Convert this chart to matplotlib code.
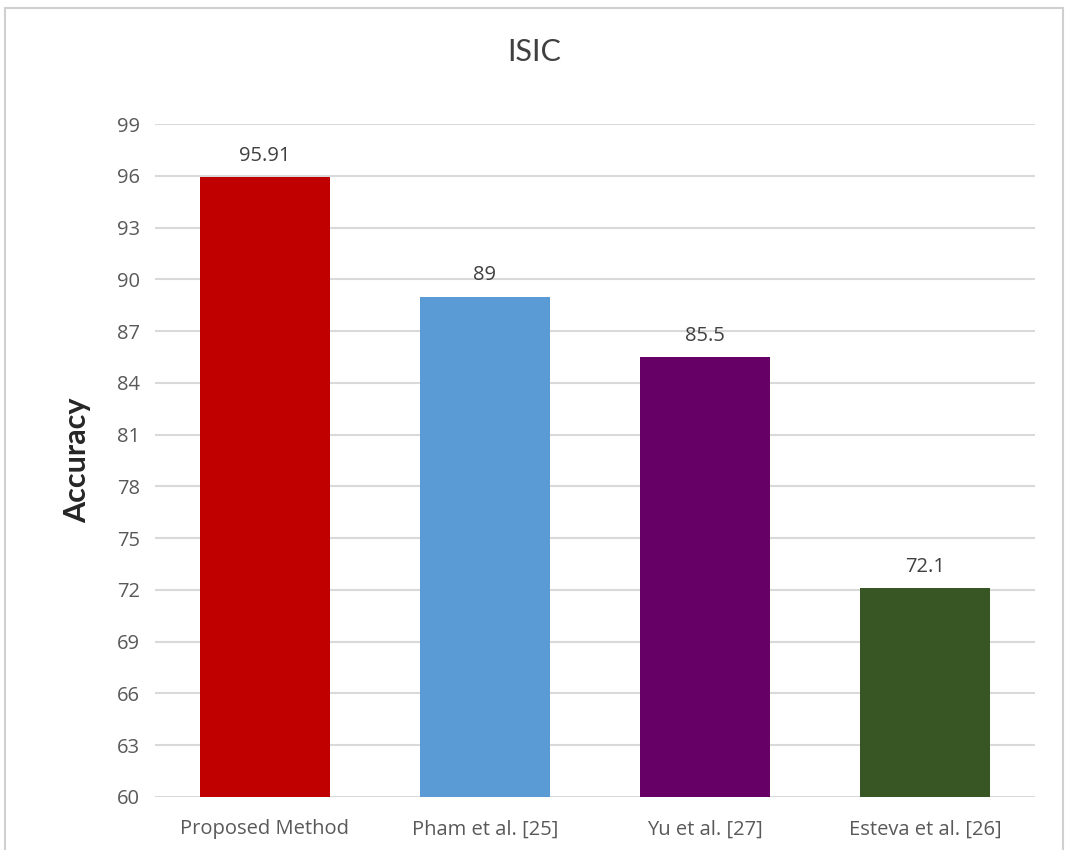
import matplotlib.pyplot as plt
from matplotlib.patches import Rectangle

methods = ["Proposed Method", "Pham et al. [25]", "Yu et al. [27]", "Esteva et al. [26]"]
accuracy = [95.91, 89, 85.5, 72.1]
value_labels = ["95.91", "89", "85.5", "72.1"]
bar_colors = ["#C00000", "#5B9BD5", "#660066", "#375623"]
y_ticks = list(range(60, 100, 3))

plt.rcParams["font.family"] = ["Open Sans", "DejaVu Sans"]

fig = plt.figure(figsize=(10.68, 8.5), dpi=100)
ax = fig.add_axes([155 / 1068, 1 - 797 / 850, 880 / 1068, (797 - 124) / 850])

# light chart-area frame around everything
fig.patches.append(Rectangle((5 / 1068, -0.01), 1058 / 1068, 1 - 8 / 850 + 0.01,
                             transform=fig.transFigure, fill=False,
                             edgecolor="#D0D0D0", linewidth=1.5))

x = range(len(methods))
ax.bar(x, [v - 60 for v in accuracy], bottom=60, width=0.59,
       color=bar_colors, zorder=3)

for xi, v, lab in zip(x, accuracy, value_labels):
    ax.annotate(lab, (xi, v), xytext=(0, 8), textcoords="offset points",
                ha="center", va="bottom", fontsize=14.5, color="#404040")

ax.set_xlim(-0.5, len(methods) - 0.5)
ax.set_ylim(60, 99)
ax.set_yticks(y_ticks)
ax.set_xticks(list(x))
ax.set_xticklabels(methods)
ax.yaxis.grid(True, color="#D9D9D9", linewidth=1.5, zorder=0)
ax.set_axisbelow(True)
for s in ax.spines.values():
    s.set_visible(False)
ax.tick_params(axis="both", length=0, labelsize=14.5, labelcolor="#595959")
ax.tick_params(axis="y", pad=11)
ax.tick_params(axis="x", pad=16)

ax.set_ylabel("Accuracy", fontsize=22, fontweight="bold", color="#262626",
              family=["Lato", "DejaVu Sans"], labelpad=18)
fig.text(0.5, 1 - 52 / 850, "ISIC", ha="center", va="center",
         fontsize=22, color="#404040", family=["Lato", "DejaVu Sans"])

fig.savefig("out.png", dpi=100, facecolor="white")
